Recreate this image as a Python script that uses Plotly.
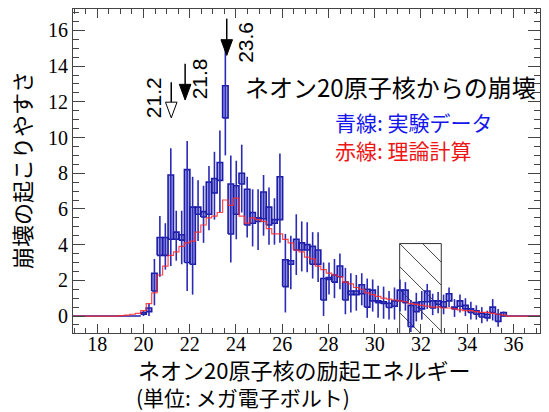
import plotly.graph_objects as go

# ---------------- data ----------------
bin_width = 0.236
center_ref = 21.18          # centre of bin index 0
blue_k0 = -5                # index of the first experimental bin
blue_val = [0.15, 0.35, 1.9, 3.9, 3.9, 6.1, 4.5, 4.4, 5.6, 4.5,
            5.9, 5.7, 6.6, 7.3, 8.1, 12.0, 6.0, 6.5, 7.7, 6.1,
            5.5, 5.4, 6.2, 5.6, 5.3, 6.6, 2.4, 3.0, 4.0, 3.9,
            3.85, 3.4, 3.3, 1.5, 2.1, 2.1, 2.5, 1.4, 1.3, 1.3,
            1.5, 1.0, 1.15, 0.8, 0.75, 0.6, 0.7, 1.15, 1.1, 0.0,
            0.5, 0.6, 1.1, 0.65, 0.75, 0.65, 1.05, 0.45, 0.7, 0.5,
            0.3, 0.2, 0.05, 0.0, 0.35, -0.1, 0.1]
blue_box = [0.05, 0.1, 0.5, 0.5, 0.5, 1.8, 0.2, 0.15, 2.6, 1.6,
            0.2, 0.15, 0.9, 0.4, 0.5, 0.9, 1.4, 0.8, 0.3, 1.0,
            0.3, 0.1, 0.75, 0.5, 0.1, 1.2, 0.75, 0.1, 0.3, 0.2,
            0.15, 0.5, 0.4, 0.6, 0.05, 0.2, 0.3, 0.5, 0.1, 0.1,
            0.25, 0.5, 0.3, 0.05, 0.05, 0.12, 0.15, 0.3, 0.35, 0.6,
            0.25, 0.2, 0.3, 0.2, 0.1, 0.15, 0.2, 0.05, 0.15, 0.1,
            0.1, 0.1, 0.1, 0.1, 0.15, 0.2, 0.1]
blue_err = [0.15, 0.35, 1.3, 1.7, 1.3, 3.3, 1.4, 1.5, 4.2, 3.3,
            1.7, 1.6, 1.8, 1.9, 2.3, 3.0, 3.0, 2.2, 1.9, 1.7,
            1.6, 1.7, 1.7, 1.6, 1.3, 2.5, 2.2, 1.5, 1.7, 1.4,
            1.4, 1.3, 1.4, 1.5, 0.9, 1.1, 1.0, 1.3, 1.1, 1.0,
            0.9, 1.1, 0.9, 0.9, 0.9, 0.8, 0.9, 0.9, 0.8, 0.9,
            0.8, 0.8, 0.7, 0.6, 0.6, 0.55, 0.55, 0.5, 0.5, 0.5,
            0.5, 0.4, 0.45, 0.3, 0.6, 0.5, 0.15]

red_k0 = -10
red_val = [0.0, 0.02, 0.05, 0.1, 0.15, 0.3, 0.7, 1.3, 2.3, 2.8,
           3.4, 3.6, 3.9, 4.1, 4.2, 4.7, 5.1, 5.5, 5.6, 5.8,
           6.5, 6.2, 6.6, 5.6, 5.2, 5.5, 5.4, 5.3, 4.9, 4.6,
           4.6, 4.3, 4.1, 3.7, 3.6, 3.3, 3.2, 2.8, 2.6, 2.4,
           2.3, 2.2, 1.9, 1.8, 1.6, 1.5, 1.3, 1.2, 1.1, 1.0,
           0.95, 0.9, 0.85, 0.8, 0.7, 0.65, 0.6, 0.55, 0.5, 0.5,
           0.45, 0.45, 0.4, 0.35, 0.3, 0.3, 0.25, 0.2, 0.2, 0.15,
           0.1, 0.05, 0.0]

arrow_pos = [21.2, 21.8, 23.6]
arrow_labels = ["21.2", "21.8", "23.6"]
arrow_top = [13.1, 14.13, 16.66]
arrow_tip = [11.1, 12.1, 14.6]
arrow_filled = [False, True, True]
arrow_label_x = [20.41, 22.44, 24.41]
arrow_label_y = [12.26, 13.31, 15.33]

hatch_x = [31.08, 32.88]
hatch_top = 4.06

x_range = [16.95, 37.15]
y_range = [-0.95, 17.2]
x_ticks = [18, 20, 22, 24, 26, 28, 30, 32, 34, 36]
y_ticks = [0, 2, 4, 6, 8, 10, 12, 14, 16]

# ---------------- geometry ----------------
L, R, T, B = 73, 9, 9, 79
W, H = 549, 412
pw, ph = W - L - R, H - T - B
sx = pw / (x_range[1] - x_range[0])      # pixels per x unit
sy = ph / (y_range[1] - y_range[0])      # pixels per y unit

fig = go.Figure()
CJK = "Noto Sans CJK JP"

# hatched region: outline + 45 degree lines (in screen space)
hx0, hx1 = hatch_x
hy0 = y_range[0]
fig.add_trace(go.Scatter(
    x=[hx0, hx1, hx1, hx0, hx0],
    y=[hy0 - 1, hy0 - 1, hatch_top, hatch_top, hy0 - 1],
    mode="lines", line=dict(color="#333333", width=1),
    hoverinfo="skip", showlegend=False))
wpx = (hx1 - hx0) * sx
hpx = (hatch_top - hy0) * sy
spacing = 23.0
lx, ly = [], []
k = -int(hpx // spacing) - 1
while k * spacing < wpx:
    c0 = k * spacing
    ys = max(0.0, -c0)
    ye = min(hpx, wpx - c0)
    if ye > ys:
        for py in (ys, ye):
            px = c0 + py
            lx.append(hx0 + px / sx)
            ly.append(hatch_top - py / sy)
        lx.append(None)
        ly.append(None)
    k += 1
fig.add_trace(go.Scatter(x=lx, y=ly, mode="lines", line=dict(color="#444444", width=1),
                         hoverinfo="skip", showlegend=False))

# blue boxes
blue_x = [center_ref + bin_width * (blue_k0 + i) for i in range(len(blue_val))]
bx, by = [], []
for xc, v, s in zip(blue_x, blue_val, blue_box):
    x0, x1 = xc - bin_width / 2, xc + bin_width / 2
    bx += [x0, x1, x1, x0, x0, None]
    by += [v - s, v - s, v + s, v + s, v - s, None]
fig.add_trace(go.Scatter(x=bx, y=by, mode="lines", fill="toself",
                         fillcolor="rgba(70,70,205,0.5)",
                         line=dict(color="#1c1ca6", width=1.6),
                         hoverinfo="skip", showlegend=False))
left_edge = blue_x[0] - bin_width / 2
right_edge = blue_x[-1] + bin_width / 2
fig.add_trace(go.Scatter(x=[x_range[0], left_edge, None, right_edge, x_range[1]],
                         y=[0, 0, None, 0, 0], mode="lines",
                         line=dict(color="#1c1ca6", width=1.6),
                         hoverinfo="skip", showlegend=False))
# error bars
fig.add_trace(go.Scatter(x=blue_x, y=blue_val, mode="markers",
                         marker=dict(size=1, color="rgba(0,0,0,0)"),
                         error_y=dict(type="data", array=blue_err, width=0,
                                      thickness=1.6, color="#2a2ab4"),
                         hoverinfo="skip", showlegend=False))

# red theory histogram
red_x = [center_ref + bin_width * (red_k0 + i) for i in range(len(red_val))]
rx = [x_range[0]] + red_x + [x_range[1]]
ry = [red_val[0]] + red_val + [red_val[-1]]
fig.add_trace(go.Scatter(x=rx, y=ry, mode="lines", line_shape="hvh",
                         line=dict(color="rgba(255,40,40,0.85)", width=1.2),
                         hoverinfo="skip", showlegend=False))

# arrows
hw = 0.25
for xa, lab, yt, ytip, filled, tx, ty in zip(arrow_pos, arrow_labels, arrow_top, arrow_tip,
                                             arrow_filled, arrow_label_x, arrow_label_y):
    ybase = ytip + 0.88
    fig.add_shape(type="line", xref="x", yref="y", x0=xa, x1=xa, y0=yt, y1=ybase,
                  line=dict(color="black", width=1.5))
    fig.add_shape(type="path", xref="x", yref="y",
                  path=f"M {xa-hw},{ybase} L {xa+hw},{ybase} L {xa},{ytip} Z",
                  fillcolor="black" if filled else "white",
                  line=dict(color="black", width=1))
    fig.add_annotation(x=tx, y=ty, xref="x", yref="y",
                       text=lab, textangle=-90, showarrow=False,
                       font=dict(family="Liberation Sans Narrow, Liberation Sans",
                                 size=21, color="black"))

# texts (positions given in page pixels, converted below)
fig.add_annotation(x=243, y=87, xref="paper", yref="paper", text="ネオン20原子核からの崩壊",
                   showarrow=False, xanchor="left", yanchor="middle",
                   font=dict(family=CJK, size=24, color="black"))
fig.add_annotation(x=333, y=122, xref="paper", yref="paper", text="青線: 実験データ",
                   showarrow=False, xanchor="left", yanchor="middle",
                   font=dict(family=CJK, size=21, color="#1515ee"))
fig.add_annotation(x=333, y=150, xref="paper", yref="paper", text="赤線: 理論計算",
                   showarrow=False, xanchor="left", yanchor="middle",
                   font=dict(family=CJK, size=21, color="#ee1515"))
fig.add_annotation(x=136, y=369, xref="paper", yref="paper", text="ネオン20原子核の励起エネルギー",
                   showarrow=False, xanchor="left", yanchor="middle",
                   font=dict(family=CJK, size=22, color="black"))
fig.add_annotation(x=134, y=397, xref="paper", yref="paper", text="(単位: メガ電子ボルト)",
                   showarrow=False, xanchor="left", yanchor="middle",
                   font=dict(family=CJK, size=21, color="black"))
fig.add_annotation(x=21, y=170, xref="paper", yref="paper", text="崩壊の起こりやすさ",
                   textangle=-90, showarrow=False, xanchor="center", yanchor="middle",
                   font=dict(family=CJK, size=22, color="black"))

for a in fig.layout.annotations:
    if a.xref == "paper":
        a.x = (a.x - L) / pw
        a.y = (H - B - a.y) / ph

axis_common = dict(showgrid=False, zeroline=False, showline=True, linecolor="#444444",
                   linewidth=1, mirror="allticks", ticks="inside", tickcolor="#444444",
                   tickwidth=1,
                   tickfont=dict(family="Liberation Serif", size=20, color="black"))
fig.update_xaxes(range=x_range, tickvals=x_ticks, ticklen=9, ticklabelstandoff=-7,
                 minor=dict(dtick=0.5, tick0=0, ticklen=5, ticks="inside", tickcolor="#444444"),
                 **axis_common)
fig.update_yaxes(range=y_range, tickvals=y_ticks, ticklen=12,
                 minor=dict(dtick=0.5, tick0=0, ticklen=6, ticks="inside", tickcolor="#444444"),
                 **axis_common)
fig.update_layout(width=W, height=H, margin=dict(l=L, r=R, t=T, b=B),
                  plot_bgcolor="white", paper_bgcolor="white", showlegend=False)
fig.write_html("out.html", config={"displayModeBar": False},
               post_script="document.body.style.margin='0px';")
